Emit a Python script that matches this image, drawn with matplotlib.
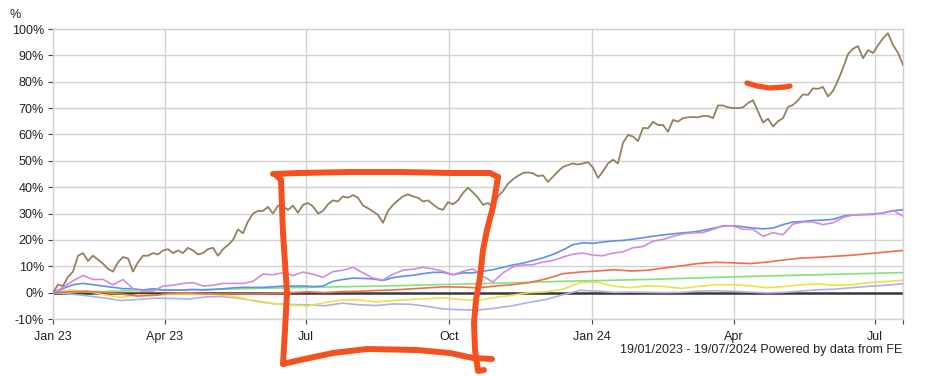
import numpy as np
import pandas as pd
import matplotlib
matplotlib.use("Agg")
import matplotlib.pyplot as plt

plt.rcParams['font.family'] = ['Liberation Sans', 'DejaVu Sans']

# ---------- 数据（从图上读出，单位 %） ----------
start = pd.Timestamp("2023-01-19")
end = pd.Timestamp("2024-07-19")

brown = [0, 3, 2.5, 6, 8, 14, 15, 12, 14, 12.5, 11, 9, 8, 11.5, 13.5, 13, 8, 11.5, 14, 14,
         15, 14.5, 16, 16.5, 15, 16, 15, 17, 16, 14.5, 15, 16.5, 17, 14, 16.5, 18, 20, 24, 22.5, 27,
         30, 31, 31, 32.5, 30, 33, 32.7, 31.4, 33, 30.3, 33.3, 34, 32.7, 30, 31, 33.5, 35, 34.6, 36.5, 36,
         37, 36, 33, 32, 30.8, 29.5, 26.5, 31, 33.3, 35, 36.5, 37.3, 36.5, 36, 34.6, 35, 33.5, 32, 31.4, 34.3,
         33.5, 35, 37.8, 39.8, 38, 36, 33.3, 34, 32.5, 36.5, 38.5, 41.3, 43, 44.3, 45.4, 45.6, 45.2, 44.2, 44.5, 42,
         44, 46, 47.7, 48.4, 49, 48.6, 49, 49.5, 47.4, 43.5, 46, 49, 50.4, 49, 56.8, 59.8, 59.2, 57.5, 62.5, 62.3,
         64.8, 63.6, 63.6, 61, 65.5, 64.9, 66.2, 66.5, 66.6, 66.5, 67, 67, 66.2, 71, 71, 70.3, 70, 70, 70.3, 71.9,
         73, 68.7, 64.5, 66, 63, 65, 66.2, 70.4, 71.2, 73, 75.2, 75, 77.5, 77.3, 78, 74.4, 76.5, 80.5, 85.2, 90.5,
         92.5, 93.5, 88.9, 92, 90.9, 93.8, 96.5, 98.4, 93.9, 91, 86.4]

pink = [0, 2, 4.5, 6.5, 5, 5, 3, 5, 1.5, 0.5, 0.5, 2.5, 2.8, 3.5, 3.8, 2.5, 2.8, 3.5, 3.5, 3.5,
        4.3, 7, 6.8, 7.5, 6.5, 7.8, 7, 5.8, 8, 8.5, 9.6, 7.5, 5.5, 4.8, 7, 8.5, 8.9, 9.6, 9, 8.1,
        6.8, 8.1, 9, 6.2, 4, 7.5, 9.8, 10.5, 10.6, 11.6, 12.2, 13.5, 14.6, 15, 14.2, 14, 15, 15.5, 17, 17.5,
        19.5, 20.2, 21.4, 22.3, 22.7, 22.8, 24, 25.4, 25.3, 24, 24, 21.4, 22.7, 22, 26, 26.8, 26.8, 25.8, 26.5, 28.5,
        29.5, 29.6, 29.6, 30.3, 31.2, 29]

blue = [0, 1.5, 3, 3.5, 3, 2.5, 2, 1.5, 1.5, 1, 1.5, 1, 1, 1, 1.2, 1, 1.2, 1.5, 1.8, 2,
        2, 2, 2.2, 2.5, 2.5, 2.5, 2.3, 2.5, 4.3, 5, 5.5, 5.4, 5.2, 4.6, 5.7, 6.2, 6.6, 7.2, 7.7, 7.7,
        6.8, 7.5, 7.5, 8.1, 8.7, 9.6, 10.5, 11.2, 12.2, 13.2, 14.5, 16.2, 18.2, 18.9, 18.7, 19.2, 19.6, 19.8, 20.3, 20.8,
        21.4, 21.9, 22.3, 22.7, 23, 23.6, 24.4, 25.2, 25.4, 25, 24.5, 24.2, 24.5, 25.8, 26.8, 27, 27.4, 27.5, 27.8, 29,
        29.5, 29.6, 29.8, 30.2, 31, 31.5]

red = [0, 0.3, 0.5, 0, -0.5, -1.3, -1, -0.2, 0, -0.5, -0.5, -0.5, -0.5, -0.3, 0, 0.3, 0, 0.4, 0.5, 0.8,
       1, 1.4, 1.8, 2.2, 2.1, 1.8, 2.5, 3, 3.8, 5.2, 7.2, 7.8, 8.2, 8.7, 8.2, 8.5, 9.4, 10.2, 11.1, 11.5,
       11.3, 11, 11.6, 12.4, 13.1, 13.4, 13.8, 14.2, 14.8, 15.4, 16]

green = [0, 0.8, 1.3, 2.0, 2.6, 3.4, 4.3, 5.0, 6.0, 6.8, 7.6]

yellow = [0, 1, 0.5, -0.8, -1.8, -0.8, -1, -0.5, -0.5, -0.5, -1, -1.8, -3.5, -4.2, -4.8, -5, -3.8, -2.8, -2.7, -3.5,
          -3, -2.6, -2.3, -2, -2.6, -3, -1.8, -1, 0, 0.3, 1.3, 3.8, 4, 2.4, 1.9, 2.6, 2.3, 1.6, 2.4, 3,
          3, 2.6, 1.9, 2.3, 3, 3.3, 2.8, 3, 3.8, 4.2, 4.7]

lavender = [0, -0.5, -1.2, -2, -3, -2.6, -2.1, -2.2, -2.4, -1.6, -1.5, -2.2, -3.2, -4.2, -4.5, -4.6, -5, -4, -4.6, -4.9,
            -4.3, -4.4, -5.2, -6.2, -6.5, -6.6, -5.9, -5, -3.7, -2.6, -0.8, 0.9, 0.6, 0.1, 0.2, 0.1, 0, 0.1, 0.6, 0.7,
            0.5, 0.2, -0.1, 0.1, 0.6, 1.1, 1.3, 1.9, 2.4, 2.8, 3.4]

tick_dates = ["2023-01-19", "2023-04-01", "2023-07-01", "2023-10-01",
              "2024-01-01", "2024-04-01", "2024-07-01", "2024-07-19"]
tick_labels = ["Jan 23", "Apr 23", "Jul", "Oct", "Jan 24", "Apr", "Jul", ""]
y_ticks = list(range(-10, 101, 10))

# 手绘红色标注（图片像素坐标）
rect_top = [(273, 174), (300, 173), (350, 172), (400, 172), (450, 173), (490, 173), (498, 177)]
rect_right = [(498, 177), (493, 207), (487, 230), (483, 250), (480, 277), (476, 300),
              (474, 323), (475, 350), (478, 371), (484, 370)]
rect_left = [(276, 175), (281, 180), (283, 233), (287, 293), (285, 330), (283, 364)]
rect_bottom = [(283, 364), (300, 360), (333, 353), (367, 349), (417, 350), (450, 353),
               (473, 358), (492, 359)]
dash = [(747, 83), (757, 86), (770, 88), (785, 87), (790, 86)]

series = [
    (lavender, '#a9b2ea', 1.2),
    (yellow, '#ede04a', 1.2),
    (green, '#88e07c', 1.2),
    (red, '#ef6d4c', 1.2),
    (blue, '#5f8ff0', 1.2),
    (pink, '#cf8ce0', 1.2),
    (brown, '#948160', 1.3),
]

# ---------- 绘图 ----------
fig = plt.figure(figsize=(9.28, 3.76), dpi=100)
ax = fig.add_axes([53 / 928, 1 - 319 / 376, 850 / 928, 290 / 376])

grid_c = '#d2d2d2'
ax.plot([start, end], [0, 0], color='#3a3a3a', lw=1.8, zorder=2)
for vals, c, lw in series:
    dates = pd.date_range(start, end, periods=len(vals))
    ax.plot(dates, vals, color=c, lw=lw, zorder=3)

ax.set_xlim(start, end)
ax.set_ylim(-10, 100)
ax.set_yticks(y_ticks)
ax.set_yticklabels([f"{v}%" for v in y_ticks])
ax.set_xticks(pd.to_datetime(tick_dates))
ax.set_xticklabels(tick_labels)

ax.grid(True, color=grid_c, lw=1.0, zorder=0)
ax.set_axisbelow(True)
for s in ax.spines.values():
    s.set_color(grid_c)
    s.set_linewidth(1.0)
ax.tick_params(axis='both', labelsize=9, colors='#444444', labelcolor='#222222',
               length=3.5, width=0.8)
ax.tick_params(axis='x', pad=5)
ax.tick_params(axis='y', pad=3)

fig.text(9 / 928, 1 - 15 / 376, "%", fontsize=9, color='#222222', va='center', ha='left')
fig.text(902 / 928, 1 - 350 / 376, "19/01/2023 - 19/07/2024 Powered by data from FE",
         fontsize=9, color='#222222', ha='right', va='center')

# 红色手绘标注
ov = fig.add_axes([0, 0, 1, 1], facecolor='none')
ov.set_xlim(0, 928)
ov.set_ylim(376, 0)
ov.axis('off')
for stroke in [rect_top, rect_right, rect_left, rect_bottom]:
    xs, ys = zip(*stroke)
    ov.plot(xs, ys, color='#f4511e', lw=4.3, solid_capstyle='round', solid_joinstyle='round')
xs, ys = zip(*dash)
ov.plot(xs, ys, color='#f4511e', lw=3.8, solid_capstyle='round')

fig.savefig("out.png", dpi=100)
